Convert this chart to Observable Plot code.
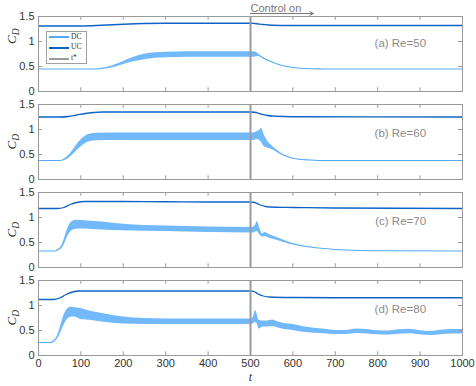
<!DOCTYPE html>
<html><head><meta charset="utf-8">
<script src="https://cdn.jsdelivr.net/npm/d3@7"></script>
<script src="https://cdn.jsdelivr.net/npm/@observablehq/plot@0.6"></script>
<style>
body{margin:0;background:#fff;}
#wrap{position:relative;width:476px;height:386px;overflow:hidden;}
#legend{position:absolute;left:46px;top:31px;width:41px;height:33px;border:1px solid #a0a0a0;background:#fff;box-sizing:border-box;font-family:"Liberation Serif",serif;font-size:7.5px;color:#333;}
#legend .sw{position:absolute;left:2px;width:20px;}
#legend .lb{position:absolute;left:24px;line-height:8px;}
</style></head><body><div id="wrap"></div>
<script>
// ---- data ----
const panels = ["a", "b", "c", "d"];
const panelLabels = ["(a) Re=50", "(b) Re=60", "(c) Re=70", "(d) Re=80"];
const xTicks = [0, 100, 200, 300, 400, 500, 600, 700, 800, 900, 1000];
const yTicks = [0, 0.5, 1, 1.5];
const controlT = 500;
const arrowEndT = 648;
const labelT = 914;

// DC: time, mean, half-width of oscillation band
const dcT_a = [0,120,150,175,200,225,250,275,300,400,500,512,520,530,545,560,580,600,630,660,700,1000];
const dcM_a = [0.45,0.45,0.46,0.50,0.57,0.64,0.69,0.72,0.73,0.74,0.74,0.74,0.72,0.67,0.61,0.56,0.51,0.48,0.46,0.452,0.45,0.45];
const dcH_a = [0,0,0.005,0.015,0.03,0.045,0.055,0.055,0.055,0.055,0.055,0.05,0.02,0.005,0,0,0,0,0,0,0,0];
const ucT_a = [0,100,150,200,250,300,500,510,530,550,600,1000];
const ucV_a = [1.31,1.31,1.325,1.345,1.36,1.365,1.365,1.36,1.34,1.325,1.32,1.32];

const dcT_b = [0,50,60,70,80,90,100,110,120,140,200,500,510,516,520,526,532,540,550,560,575,590,610,640,680,1000];
const dcM_b = [0.38,0.38,0.40,0.45,0.53,0.63,0.72,0.79,0.83,0.85,0.855,0.855,0.86,0.88,0.88,0.88,0.78,0.70,0.64,0.58,0.50,0.45,0.41,0.39,0.38,0.38];
const dcH_b = [0,0,0.005,0.02,0.04,0.06,0.07,0.075,0.075,0.075,0.075,0.075,0.075,0.08,0.09,0.14,0.12,0.07,0.04,0.025,0.01,0.005,0,0,0,0];
const ucT_b = [0,50,70,90,110,130,150,500,510,525,540,560,600,1000];
const ucV_b = [1.25,1.25,1.26,1.29,1.32,1.34,1.35,1.35,1.345,1.31,1.28,1.265,1.255,1.25];

const dcT_c = [0,35,45,55,62,70,80,90,100,150,200,300,400,500,508,512,516,520,524,528,534,545,560,580,600,630,660,700,760,820,1000];
const dcM_c = [0.33,0.33,0.35,0.42,0.55,0.72,0.83,0.855,0.855,0.83,0.80,0.775,0.755,0.745,0.75,0.78,0.82,0.76,0.68,0.64,0.66,0.62,0.58,0.52,0.47,0.42,0.39,0.36,0.34,0.335,0.33];
const dcH_c = [0,0,0.005,0.02,0.05,0.08,0.09,0.09,0.085,0.08,0.065,0.055,0.055,0.055,0.06,0.07,0.1,0.08,0.05,0.03,0.04,0.035,0.03,0.02,0.01,0.005,0,0,0,0,0];
const ucT_c = [0,45,60,75,90,110,200,300,400,500,510,520,535,560,600,700,1000];
const ucV_c = [1.18,1.18,1.2,1.26,1.3,1.32,1.32,1.315,1.31,1.31,1.3,1.26,1.22,1.205,1.2,1.19,1.18];

const dcT_d = [0,28,36,45,52,60,68,76,85,100,125,150,200,250,300,400,500,506,512,516,520,530,540,552,565,580,600,625,650,675,700,725,750,775,800,825,850,875,900,925,950,975,1000];
const dcM_d = [0.26,0.26,0.29,0.38,0.52,0.70,0.82,0.865,0.865,0.83,0.79,0.755,0.70,0.68,0.675,0.675,0.675,0.69,0.78,0.72,0.615,0.63,0.63,0.645,0.61,0.58,0.56,0.52,0.495,0.48,0.46,0.46,0.485,0.475,0.455,0.45,0.47,0.48,0.455,0.44,0.46,0.475,0.475];
const dcH_d = [0,0,0.005,0.02,0.06,0.1,0.1,0.1,0.095,0.11,0.09,0.085,0.07,0.06,0.055,0.055,0.055,0.06,0.12,0.09,0.085,0.06,0.06,0.065,0.06,0.06,0.06,0.055,0.05,0.045,0.04,0.04,0.045,0.045,0.04,0.04,0.045,0.045,0.04,0.04,0.045,0.045,0.045];
const ucT_d = [0,35,50,65,80,95,200,500,508,518,530,545,600,700,1000];
const ucV_d = [1.12,1.12,1.15,1.22,1.27,1.29,1.29,1.29,1.28,1.23,1.19,1.17,1.16,1.155,1.155];

// ---- tables ----
const dcRows = (panel, T, M, H) => T.map((t, i) => ({panel, t, m: M[i], lo: M[i] - H[i], hi: M[i] + H[i]}));
const ucRows = (panel, T, V) => T.map((t, i) => ({panel, t, v: V[i]}));
const dc = [...dcRows("a", dcT_a, dcM_a, dcH_a), ...dcRows("b", dcT_b, dcM_b, dcH_b),
            ...dcRows("c", dcT_c, dcM_c, dcH_c), ...dcRows("d", dcT_d, dcM_d, dcH_d)];
const uc = [...ucRows("a", ucT_a, ucV_a), ...ucRows("b", ucT_b, ucV_b),
            ...ucRows("c", ucT_c, ucV_c), ...ucRows("d", ucT_d, ucV_d)];

const DC = "#55aaf8", DC_FILL = "#72b9fb", UC = "#0e63c8", GRAY = "#9a9a9a";

const plot = Plot.plot({
  width: 476, height: 386,
  marginTop: 16, marginBottom: 31, marginLeft: 38, marginRight: 14,
  style: {fontFamily: "'Liberation Sans', Arial, sans-serif", fontSize: "11px", color: "#333", background: "#fff"},
  x: {domain: [0, 1000]},
  y: {domain: [0, 1.5]},
  fy: {domain: panels, axis: null, paddingInner: 0.152, paddingOuter: 0},
  marks: [
    Plot.line(dc, {x: "t", y: "m", fy: "panel", stroke: DC, strokeWidth: 1.1, curve: "monotone-x"}),
    Plot.areaY(dc, {x: "t", y1: "lo", y2: "hi", fy: "panel", fill: DC_FILL, curve: "monotone-x"}),
    Plot.line(uc, {x: "t", y: "v", fy: "panel", stroke: UC, strokeWidth: 1.3, curve: "monotone-x"}),
    Plot.ruleX([controlT], {x: d => d, stroke: GRAY, strokeWidth: 2}),
    Plot.frame({stroke: GRAY}),
    Plot.ruleX(xTicks, {x: d => d, y1: 0, y2: 0.075, stroke: GRAY}),
    Plot.ruleX(xTicks, {x: d => d, y1: 1.425, y2: 1.5, stroke: GRAY}),
    Plot.ruleY(yTicks, {y: d => d, x1: 0, x2: 9, stroke: GRAY}),
    Plot.ruleY(yTicks, {y: d => d, x1: 991, x2: 1000, stroke: GRAY}),
    Plot.axisY({ticks: yTicks, tickFormat: d => String(d), tickSize: 0, tickPadding: 4, label: null}),
    Plot.axisX({ticks: xTicks, tickFormat: d => String(d), tickSize: 0, tickPadding: 4, label: null}),
    Plot.text(panels, {fy: d => d, x: labelT, y: d => d === "a" ? 0.97 : 0.92, text: (d, i) => panelLabels[i],
      textAnchor: "end", fill: "#8a8a8a", fontSize: 11.5}),
    Plot.text(["a"], {fy: d => d, x: controlT, frameAnchor: "top", text: () => "Control on",
      textAnchor: "start", lineAnchor: "bottom", dy: -5, fill: "#777", fontSize: 11}),
    Plot.arrow(["a"], {fy: d => d, x1: controlT, x2: arrowEndT, y1: 1.5, y2: 1.5, dy: -3,
      stroke: "#777", strokeWidth: 1, headLength: 6}),
    Plot.text(["d"], {fy: d => d, x: controlT, frameAnchor: "bottom", text: () => "t", dy: 25,
      lineAnchor: "bottom", fontStyle: "italic", fontFamily: "'Liberation Serif', serif", fontSize: 12, fill: "#333"}),
    Plot.text(panels, {fy: d => d, frameAnchor: "left", y: d => d === "a" ? 0.95 : 0.6, text: () => "C",
      rotate: -90, dx: -27, fontStyle: "italic", fontFamily: "'Liberation Serif', serif", fontSize: 13,
      fill: "#333"})
  ]
});

d3.select(plot).selectAll("text")
  .filter(function () { return this.textContent === "C"; })
  .append("tspan").attr("font-size", "9.5px").attr("dy", "0.3em").text("D");

const wrap = document.getElementById("wrap");
wrap.appendChild(plot);

// legend (inside panel a)
const legend = document.createElement("div");
legend.id = "legend";
const entries = [["DC", DC, 1.2], ["UC", UC, 1.6], ["t*", GRAY, 2]];
entries.forEach(([name, color, w], i) => {
  const cy = 5 + i * 10.8;
  const sw = document.createElement("div");
  sw.className = "sw";
  sw.style.top = (cy - w / 2) + "px";
  sw.style.height = w + "px";
  sw.style.background = color;
  const lb = document.createElement("div");
  lb.className = "lb";
  lb.style.top = (cy - 4.5) + "px";
  lb.textContent = name;
  legend.appendChild(sw);
  legend.appendChild(lb);
});
wrap.appendChild(legend);
</script></body></html>
